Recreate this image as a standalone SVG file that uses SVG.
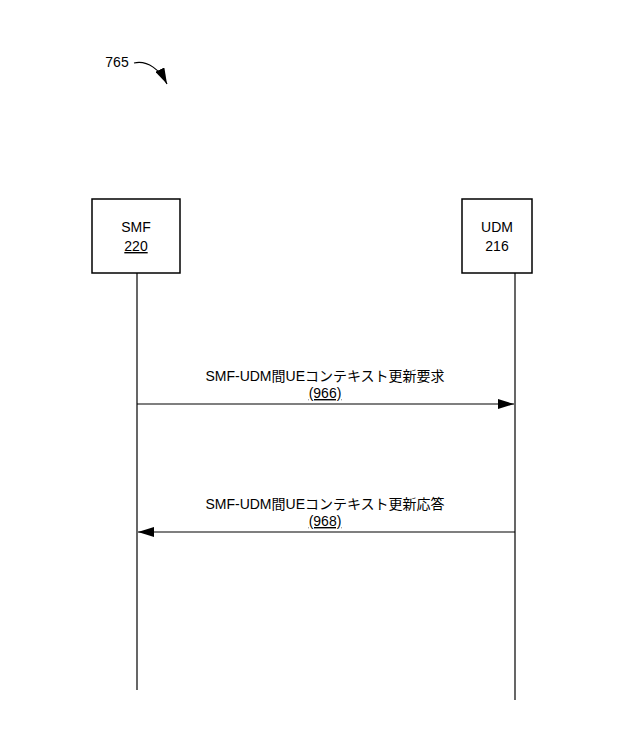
<svg xmlns="http://www.w3.org/2000/svg" width="640" height="738" viewBox="0 0 640 738">
<style>
.box{fill:#fff;stroke:#000;stroke-width:1.5}
.t{font-family:"Liberation Sans",Arial,sans-serif;font-size:14px;text-anchor:middle}
.j{font-family:"Liberation Sans","Noto Sans CJK JP",sans-serif;font-size:14px;text-anchor:middle}
.l{stroke:#000;stroke-width:1.2;fill:none}
</style>
<defs><marker id="a" markerWidth="16" markerHeight="10" refX="16" refY="5" orient="auto" markerUnits="userSpaceOnUse"><path d="M0,0L16,5L0,10z"/></marker></defs>
<rect width="640" height="738" fill="#fff"/>
<text x="117" y="67" class="t">765</text>
<path d="M134,63 C148,60 160,70 167,84" class="l" marker-end="url(#a)"/>
<g id="smf"><rect x="92" y="199" width="88" height="74" class="box"/><text x="136" y="232" class="t">SMF</text><text x="136" y="251" class="t" text-decoration="underline">220</text></g>
<g id="udm"><rect x="462" y="199" width="70" height="74" class="box"/><text x="497" y="232" class="t">UDM</text><text x="497" y="251" class="t">216</text></g>
<g id="connectors">
<line x1="137" y1="273" x2="137" y2="690" class="l"/>
<line x1="515" y1="273" x2="515" y2="700" class="l"/>
<line x1="137" y1="404" x2="514" y2="404" class="l" stroke-width="1.5" marker-end="url(#a)"/>
<line x1="515" y1="532" x2="138" y2="532" class="l" stroke-width="1.5" marker-end="url(#a)"/>
<text x="325" y="381" class="j">SMF-UDM間UEコンテキスト更新要求</text>
<text x="325" y="398" class="j" text-decoration="underline">(966)</text>
<text x="325" y="509" class="j">SMF-UDM間UEコンテキスト更新応答</text>
<text x="325" y="526" class="j" text-decoration="underline">(968)</text>
</g>
</svg>
